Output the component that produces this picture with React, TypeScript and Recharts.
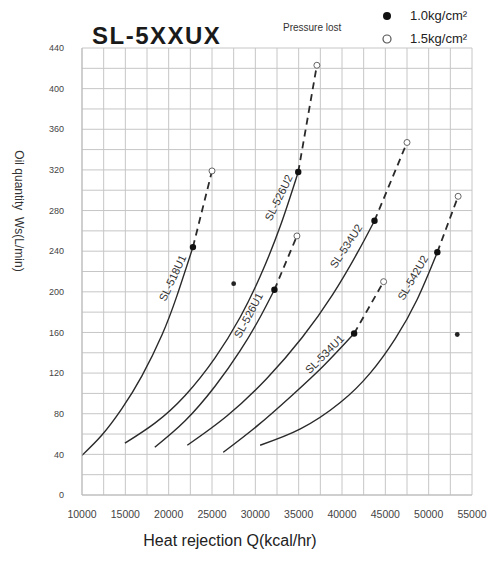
import { ComposedChart, Line, Scatter, XAxis, YAxis, CartesianGrid } from 'recharts';

const FONT = '"Liberation Sans", Arial, sans-serif';

// gridlines every 2500 / 20, labels every 5000 / 40
const xTicks = [10000, 12500, 15000, 17500, 20000, 22500, 25000, 27500, 30000, 32500, 35000, 37500, 40000, 42500, 45000, 47500, 50000, 52500, 55000];
const yTicks = [0, 20, 40, 60, 80, 100, 120, 140, 160, 180, 200, 220, 240, 260, 280, 300, 320, 340, 360, 380, 400, 420, 440];

// solid part of each curve (1.0 kg/cm2 end point last)
const sl518u1 = [
  { q: 10000, w: 39 }, { q: 12300, w: 59 }, { q: 14600, w: 85 }, { q: 16900, w: 117 },
  { q: 19250, w: 158 }, { q: 20950, w: 196 }, { q: 22800, w: 244 },
];
const sl526u2 = [
  { q: 14950, w: 51 }, { q: 18450, w: 71 }, { q: 21900, w: 98 }, { q: 25350, w: 135 },
  { q: 28250, w: 175 }, { q: 30550, w: 215 }, { q: 32850, w: 264 }, { q: 34950, w: 318 },
];
const sl526u1 = [
  { q: 18400, w: 47 }, { q: 21900, w: 73 }, { q: 25350, w: 107 }, { q: 28250, w: 142 },
  { q: 30550, w: 175 }, { q: 32200, w: 202 },
];
const sl534u2 = [
  { q: 22150, w: 49 }, { q: 26750, w: 78 }, { q: 31350, w: 115 }, { q: 35400, w: 155 },
  { q: 38900, w: 197 }, { q: 41750, w: 238 }, { q: 43750, w: 270 },
];
const sl534u1 = [
  { q: 26300, w: 42 }, { q: 30350, w: 69 }, { q: 34350, w: 99 }, { q: 37850, w: 127 },
  { q: 41400, w: 159 },
];
const sl542u2 = [
  { q: 30550, w: 49 }, { q: 35200, w: 65 }, { q: 39800, w: 91 }, { q: 43250, w: 120 },
  { q: 46150, w: 154 }, { q: 48700, w: 193 }, { q: 51000, w: 239 },
];

// 1.5 kg/cm2 end points
const openPoints = [
  { q: 25000, w: 319 }, { q: 37100, w: 423 }, { q: 34800, w: 255 },
  { q: 47500, w: 347 }, { q: 44800, w: 210 }, { q: 53400, w: 294 },
];
const solidCurves = [sl518u1, sl526u2, sl526u1, sl534u2, sl534u1, sl542u2];
const filledPoints = solidCurves.map(c => c[c.length - 1]);
const strayPoints = [{ q: 27500, w: 208 }, { q: 53300, w: 158 }];

const curveNames = ['SL-518U1', 'SL-526U2', 'SL-526U1', 'SL-534U2', 'SL-534U1', 'SL-542U2'];
const labelAnchors = [
  { q: 20850, w: 212, angle: -65 },
  { q: 33100, w: 291, angle: -64 },
  { q: 29600, w: 175, angle: -62 },
  { q: 40850, w: 243, angle: -57 },
  { q: 38300, w: 136, angle: -45 },
  { q: 48550, w: 212, angle: -60 },
];
const labels = labelAnchors.map((a, i) => ({ ...a, name: curveNames[i] }));

const FilledDot = ({ cx, cy }: any) => <circle cx={cx} cy={cy} r={3.2} fill="#111" />;
const OpenDot = ({ cx, cy }: any) => <circle cx={cx} cy={cy} r={3} fill="#fff" stroke="#666" strokeWidth={1} />;
const SmallDot = ({ cx, cy }: any) => <circle cx={cx} cy={cy} r={2.4} fill="#222" />;
const CurveLabel = ({ cx, cy, payload }: any) => (
  <text x={cx} y={cy} dy={-4} transform={`rotate(${payload.angle} ${cx} ${cy})`} textAnchor="middle"
    dominantBaseline="central" fontSize={11} fill="#333" fontFamily={FONT}>{payload.name}</text>
);

export default function App() {
  return (
    <div style={{ position: 'absolute', left: 0, top: 0, width: 489, height: 565, background: '#fff', fontFamily: FONT }}>
      <ComposedChart width={489} height={565} margin={{ top: 48, right: 17, bottom: 0, left: 0 }}>
        <CartesianGrid stroke="#c6c6c6" strokeWidth={1} />
        <XAxis type="number" dataKey="q" domain={[10000, 55000]} ticks={xTicks} interval={0} height={70}
          tickFormatter={v => (v % 5000 === 0 ? String(v) : '')}
          tick={{ fill: '#444', fontSize: 10.5, fontFamily: FONT }} tickLine={false} tickSize={0} tickMargin={16}
          axisLine={{ stroke: '#bbb' }} allowDataOverflow />
        <YAxis type="number" dataKey="w" domain={[0, 440]} ticks={yTicks} interval={0} width={82}
          tickFormatter={v => (v % 40 === 0 ? String(v) : '')}
          tick={{ fill: '#444', fontSize: 9, fontFamily: FONT }} tickLine={false} tickSize={0} tickMargin={18}
          axisLine={{ stroke: '#bbb' }} allowDataOverflow />
        {solidCurves.map((c, i) => (
          <Line key={'s' + i} data={c} dataKey="w" type="natural" stroke="#2a2a2a" strokeWidth={1.4}
            dot={false} activeDot={false} isAnimationActive={false} />
        ))}
        {solidCurves.map((c, i) => (
          <Line key={'d' + i} data={[c[c.length - 1], openPoints[i]]} dataKey="w" type="linear" stroke="#2a2a2a"
            strokeWidth={1.8} strokeDasharray="7 5" dot={false} activeDot={false} isAnimationActive={false} />
        ))}
        <Scatter data={filledPoints} dataKey="w" shape={<FilledDot />} isAnimationActive={false} />
        <Scatter data={openPoints} dataKey="w" shape={<OpenDot />} isAnimationActive={false} />
        <Scatter data={strayPoints} dataKey="w" shape={<SmallDot />} isAnimationActive={false} />
        <Scatter data={labels} dataKey="w" shape={<CurveLabel />} isAnimationActive={false} />
      </ComposedChart>

      <div style={{ position: 'absolute', left: 92, top: 22, fontSize: 24, fontWeight: 'bold', letterSpacing: 1.5, color: '#1a1a1a' }}>SL-5XXUX</div>
      <div style={{ position: 'absolute', left: 283, top: 22, fontSize: 10, color: '#333' }}>Pressure lost</div>
      <svg style={{ position: 'absolute', left: 380, top: 8 }} width={16} height={40}>
        <circle cx={7} cy={8} r={4} fill="#111" />
        <circle cx={7} cy={31} r={4} fill="#fff" stroke="#555" strokeWidth={1.2} />
      </svg>
      <div style={{ position: 'absolute', left: 410, top: 8, fontSize: 13, color: '#222' }}>1.0kg/cm²</div>
      <div style={{ position: 'absolute', left: 410, top: 31, fontSize: 13, color: '#222' }}>1.5kg/cm²</div>
      <div style={{ position: 'absolute', left: 19, top: 211, transform: 'translate(-50%, -50%) rotate(90deg)', whiteSpace: 'nowrap', fontSize: 12, color: '#333' }}>Oil quantity&nbsp;&nbsp;Ws(L/min)</div>
      <div style={{ position: 'absolute', left: 230, top: 541, transform: 'translate(-50%, -50%)', whiteSpace: 'nowrap', fontSize: 16, color: '#222' }}>Heat rejection Q(kcal/hr)</div>
    </div>
  );
}
